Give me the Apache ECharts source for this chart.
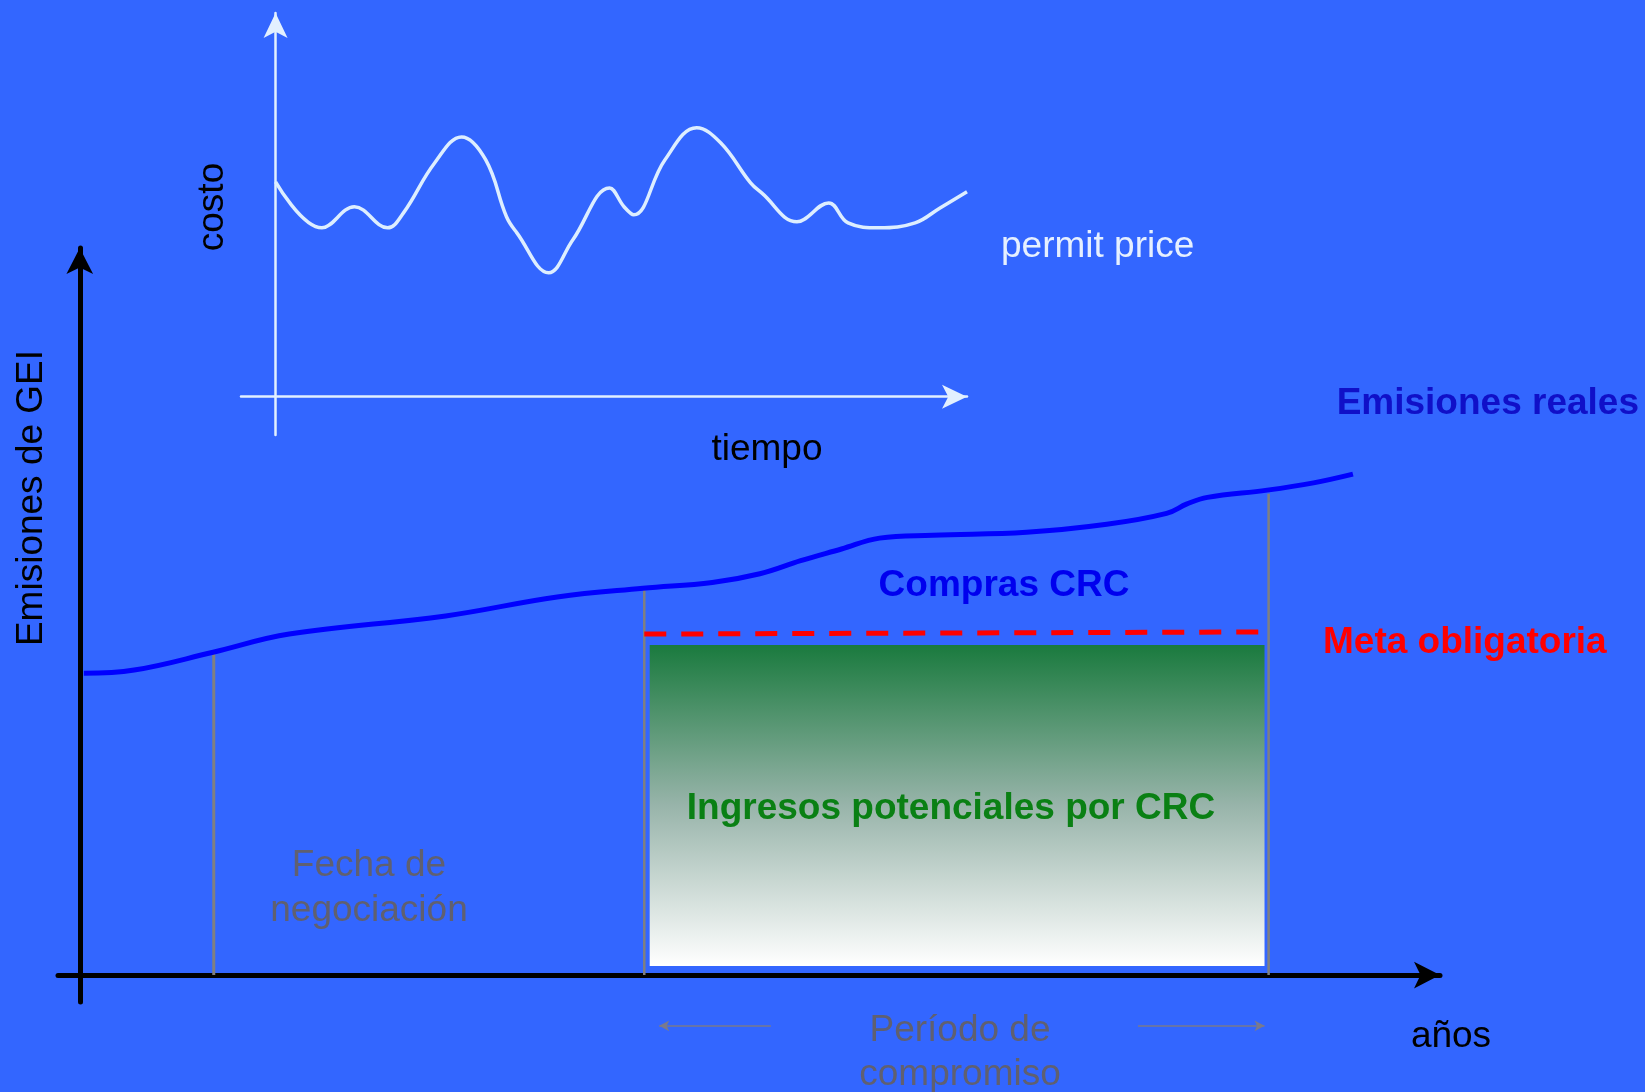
<!DOCTYPE html>
<html><head><meta charset="utf-8">
<script src="https://cdn.jsdelivr.net/npm/echarts@6/dist/echarts.min.js"></script>
<style>html,body{margin:0;padding:0;background:#3366FF;}#c{width:1645px;height:1092px;}</style>
</head><body><div id="c"></div>
<script>
// Inset: permit price over time
const priceT = [0,6.7,11.4,16.2,18.5,23.0,26.9,30.4,33.4,34.9,39.5,43.0,48.3,50.4,51.8,56.3,60.9,64.4,68.7,70.3,75.4,80.0,82.8,87.3,92.5,96.1,100];
const priceV = [56.0,44.0,49.5,44.0,47.9,60.9,67.7,61.7,46.9,42.7,32.3,40.9,54.4,49.5,47.4,61.7,70.1,66.1,55.7,53.1,45.6,50.5,45.3,44.0,45.3,49.2,53.4];
// Main: real emissions over years
const yearX = [0.3,4.0,9.8,15.4,26.9,35.1,41.4,46.5,50.0,53.0,56.0,58.8,62.7,69.6,75.5,79.9,81.4,82.9,87.3,90.7,93.6];
const emis  = [41.5,41.95,44.4,46.9,49.4,52.0,53.2,54.0,55.2,57.0,58.6,60.1,60.5,60.9,62.0,63.5,64.8,65.7,66.7,67.7,68.9];
// Vertical markers (negotiation date, commitment start, commitment end)
const markerX = [9.85, 41.5, 87.4];
const markerTop = [44.4, 53.2, 66.2];
// Mandatory target
const metaX = [41.5, 87.4];
const metaY = [46.9, 47.2];
// Potential revenue area
const areaX = [41.9, 87.1];
const areaY = [1.24, 45.4];
// Commitment period arrows
const periodLeft = [50.8, 42.6];
const periodRight = [77.8, 87.1];

const FONT = '"Liberation Sans", Arial, sans-serif';
const chart = echarts.init(document.getElementById('c'));
const arrowMain = {show:true, onZero:true, symbol:['none','arrow'], symbolSize:[20,26], symbolOffset:[0,0], lineStyle:{color:'#000', width:5}};
const arrowInset = {show:true, onZero:true, symbol:['none','arrow'], symbolSize:[18,25], symbolOffset:[0,0], lineStyle:{color:'#E2F0FF', width:2.5}};
const hide = {axisTick:{show:false}, axisLabel:{show:false}, splitLine:{show:false}};

function txt(text, x, y, size, color, opts) {
  opts = opts || {};
  return {type:'text', x:x, y:y, rotation:opts.rot||0, z:100,
    style:{text:text, fill:color, font:(opts.bold?'bold ':'')+size+'px '+FONT,
      textAlign:opts.align||'center', textVerticalAlign:'middle', verticalAlign:'middle', lineHeight:opts.lh||size}};
}

const series = [
  {type:'line', xAxisIndex:1, yAxisIndex:1, data:priceT.map((t,i)=>[t,priceV[i]]), smooth:0.4, symbol:'none', clip:false,
   lineStyle:{color:'#DDEEFF', width:3.5}, z:5},
  {type:'line', xAxisIndex:0, yAxisIndex:0, data:[], symbol:'none',
   markArea:{silent:true, itemStyle:{color:new echarts.graphic.LinearGradient(0,0,0,1,[{offset:0,color:'#1A7A3E'},{offset:0.5,color:'#98B4AA'},{offset:1,color:'#FFFFFF'}])},
     data:[[{coord:[areaX[0],areaY[1]]},{coord:[areaX[1],areaY[0]]}]]}, z:1},
  {type:'line', xAxisIndex:0, yAxisIndex:0, data:metaX.map((x,i)=>[x,metaY[i]]), symbol:'none',
   lineStyle:{color:'#FF0000', width:5, type:[22,15]}, z:3}
];
markerX.forEach((x,i)=>{
  series.push({type:'line', xAxisIndex:0, yAxisIndex:0, data:[[x,0],[x,markerTop[i]]], symbol:'none',
    lineStyle:{color:'#808080', width:i===0?3:2.5}, z:2});
});
series.push({type:'line', xAxisIndex:0, yAxisIndex:0, data:yearX.map((x,i)=>[x,emis[i]]), smooth:0.4, symbol:'none',
  lineStyle:{color:'#0000FF', width:5}, z:6});
series.push({type:'line', xAxisIndex:2, yAxisIndex:2, data:[], symbol:'none',
  markLine:{silent:true, symbol:['none','arrow'], symbolSize:[8,10], label:{show:false},
    lineStyle:{color:'#7A7A8C', width:1.5, type:'solid'},
    data:[[{coord:[periodLeft[0],0.57]},{coord:[periodLeft[1],0.57]}],[{coord:[periodRight[0],0.57]},{coord:[periodRight[1],0.57]}]]}});

chart.setOption({
  backgroundColor:'#3366FF',
  animation:false,
  grid:[
    {left:58, top:248, width:1382, height:754, containLabel:false, outerBoundsMode:'none'},
    {left:241, top:13, width:726, height:422, containLabel:false, outerBoundsMode:'none'},
    {left:58, top:1000, width:1382, height:60, containLabel:false, outerBoundsMode:'none'}
  ],
  xAxis:[
    Object.assign({type:'value', gridIndex:0, min:-1.6, max:100, axisLine:arrowMain}, hide),
    Object.assign({type:'value', gridIndex:1, min:-5, max:100, axisLine:arrowInset}, hide),
    Object.assign({type:'value', gridIndex:2, min:-1.6, max:100, show:false}, hide)
  ],
  yAxis:[
    Object.assign({type:'value', gridIndex:0, min:-3.7, max:100, axisLine:arrowMain}, hide),
    Object.assign({type:'value', gridIndex:1, min:-10, max:100, axisLine:arrowInset}, hide),
    Object.assign({type:'value', gridIndex:2, min:0, max:1, show:false}, hide)
  ],
  series:series,
  graphic:[
    txt('costo', 213, 207, 37, '#000', {rot:Math.PI/2}),
    txt('tiempo', 767, 450, 37, '#000'),
    txt('permit price', 1001, 247, 37, '#E6F0FF', {align:'left'}),
    txt('Emisiones reales', 1639, 404, 37, '#1010C8', {bold:true, align:'right'}),
    txt('Compras CRC', 1004, 586, 37, '#0000EE', {bold:true}),
    txt('Meta obligatoria', 1323, 643, 37, '#FF0000', {bold:true, align:'left'}),
    txt('Ingresos potenciales por CRC', 951, 809, 37, '#0A8014', {bold:true}),
    txt('Fecha de\nnegociación', 369, 888, 37, '#606070', {lh:45}),
    txt('Período de\ncompromiso', 960, 1053, 37, '#606070', {lh:44}),
    txt('años', 1451, 1037, 37, '#000'),
    txt('Emisiones de GEI', 32, 498, 37, '#000', {rot:Math.PI/2})
  ]
});
</script></body></html>
